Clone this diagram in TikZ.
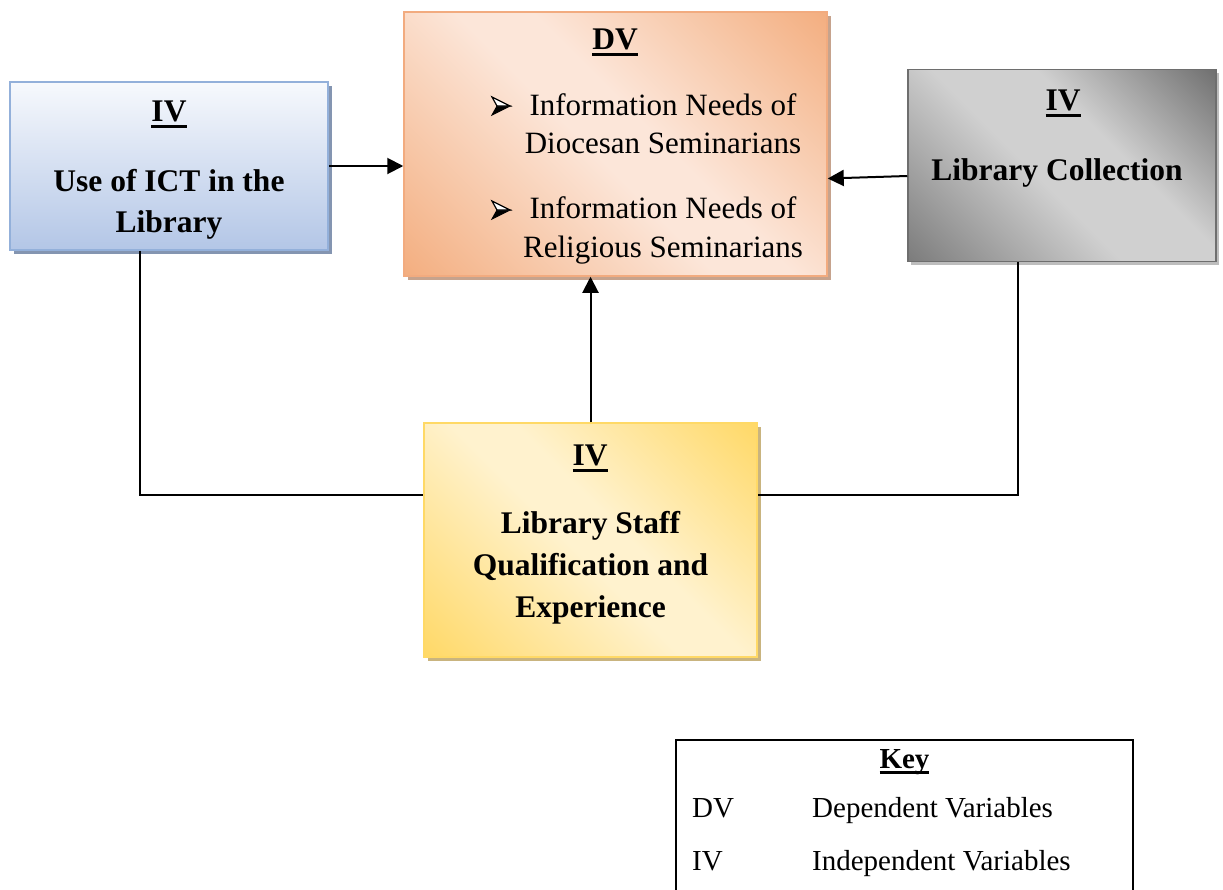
\documentclass[tikz,border=0pt]{standalone}
\usepackage{fontspec}
\setmainfont{Liberation Serif}
\usetikzlibrary{arrows.meta,shadows,calc}

% box palettes
\definecolor{blueTop}{HTML}{FBFCFE}
\definecolor{blueBot}{HTML}{AFC3E5}
\definecolor{blueLine}{HTML}{93B0DA}
\definecolor{blueShadow}{HTML}{8495B1}
\definecolor{orDark}{HTML}{F3AD7E}
\definecolor{orLight}{HTML}{FCE6D9}
\definecolor{orLine}{HTML}{F2AB7F}
\definecolor{orShadow}{HTML}{C6A38D}
\definecolor{grDark}{HTML}{666666}
\definecolor{grDarkB}{HTML}{7A7A7A}
\definecolor{grLight}{HTML}{D0D0D0}
\definecolor{grLine}{HTML}{6E6E6E}
\definecolor{grShadow}{HTML}{BDBDBD}
\definecolor{ylDark}{HTML}{FFD865}
\definecolor{ylLight}{HTML}{FFF2CE}
\definecolor{ylLine}{HTML}{FFD966}
\definecolor{ylShadow}{HTML}{C9B47F}

% gradients: vertical for the blue box, diagonal bands for the others
\pgfdeclareverticalshading{blueband}{100bp}{color(0bp)=(blueBot); color(22bp)=(blueBot); color(78bp)=(blueTop); color(100bp)=(blueTop)}
\pgfdeclareverticalshading{orangeband}{100bp}{color(0bp)=(orDark); color(14bp)=(orDark); color(47bp)=(orLight); color(55bp)=(orLight); color(86bp)=(orDark); color(100bp)=(orDark)}
\pgfdeclareverticalshading{grayband}{100bp}{color(0bp)=(grDarkB); color(14bp)=(grDarkB); color(45bp)=(grLight); color(60bp)=(grLight); color(88bp)=(grDark); color(100bp)=(grDark)}
\pgfdeclareverticalshading{yellowband}{100bp}{color(0bp)=(ylDark); color(14bp)=(ylDark); color(47bp)=(ylLight); color(55bp)=(ylLight); color(86bp)=(ylDark); color(100bp)=(ylDark)}

% underline with a heavier bar
\newcommand\heavyul[1]{\setbox0=\hbox{#1}\rlap{\rule[-0.22em]{\wd0}{0.1em}}\box0}

\tikzset{
  box/.style={rectangle, inner sep=0pt, line width=1.5pt, shade},
  ictbox/.style={box, draw=blueLine, shading=blueband,
    drop shadow={shadow xshift=4pt, shadow yshift=-4pt, fill=blueShadow, opacity=1},
    minimum width=318pt, minimum height=168pt},
  dvbox/.style={box, draw=orLine, shading=orangeband, shading angle=-45,
    drop shadow={shadow xshift=4pt, shadow yshift=-4pt, fill=orShadow, opacity=1},
    minimum width=423pt, minimum height=264pt},
  colbox/.style={box, draw=grLine, shading=grayband, shading angle=-45,
    drop shadow={shadow xshift=3pt, shadow yshift=-3pt, fill=grShadow, opacity=1},
    minimum width=308pt, minimum height=192pt},
  staffbox/.style={box, draw=ylLine, shading=yellowband, shading angle=-45,
    drop shadow={shadow xshift=4pt, shadow yshift=-4pt, fill=ylShadow, opacity=1},
    minimum width=333pt, minimum height=234pt},
  keybox/.style={rectangle, draw=black, line width=1.6pt, inner sep=0pt,
    minimum width=457pt, minimum height=155pt},
  boldtext/.style={font=\fontsize{31.5}{42}\selectfont\bfseries, inner sep=0pt, anchor=base},
  plaintext/.style={font=\fontsize{31}{42}\selectfont, inner sep=0pt, anchor=base},
  keytext/.style={font=\fontsize{29}{38}\selectfont, inner sep=0pt, anchor=base west},
  link/.style={line width=2pt, black},
  arrowlink/.style={link, -{Triangle[length=16pt, width=16pt]}},
  % three-dimensional arrowhead bullet: open upper half, solid lower half
  arrowbullet/.pic={
    \filldraw[black, line width=0.9pt, line join=miter] (9,0) -- (-9,9) -- (-4,0) -- cycle;
    \draw[black, line width=1.2pt, line join=miter, fill=white] (9,0) -- (-9,-9) -- (-4,0) -- cycle;
  },
}

\begin{document}
\begin{tikzpicture}[x=1pt, y=-1pt]
\useasboundingbox (0,0) rectangle (1223,889);

% boxes
\node[ictbox]   (ict)   at (169,166)   {};
\node[dvbox]    (dv)    at (615.5,144) {};
\node[colbox]   (coll)  at (1062,165.5) {};
\node[staffbox] (staff) at (590.5,540) {};

% ICT box text
\node[boldtext] (ictiv) at (169,121.5) {\heavyul{IV}};
\node[boldtext] (ict1)  at (169,191.5) {Use of ICT in the};
\node[boldtext] (ict2)  at (169,232.5) {Library};

% DV box text
\node[boldtext]  (dvdv) at (615,49)  {\heavyul{DV}};
\pic (b1) at (501,106) {arrowbullet};
\node[plaintext] (dv1)  at (663,115) {Information Needs of};
\node[plaintext] (dv2)  at (663,153) {Diocesan Seminarians};
\pic (b2) at (501,210) {arrowbullet};
\node[plaintext] (dv3)  at (663,218) {Information Needs of};
\node[plaintext] (dv4)  at (663,257) {Religious Seminarians};

% collection box text
\node[boldtext] (coliv) at (1063,110) {\heavyul{IV}};
\node[boldtext] (col1)  at (1057,180) {Library Collection};

% staff box text
\node[boldtext] (stiv) at (590,465) {\heavyul{IV}};
\node[boldtext] (st1)  at (590.5,533) {Library Staff};
\node[boldtext] (st2)  at (590.5,575) {Qualification and};
\node[boldtext] (st3)  at (590.5,617) {Experience};

% connectors
\draw[arrowlink] (ict.east) -- (dv.west |- ict.east);
\draw[arrowlink] ([yshift=-10.5pt]coll.west) -- ([yshift=-34.5pt]dv.east);
\draw[arrowlink] (staff.north) -- (staff.north |- dv.south);

\coordinate (lc) at (140,495);
\coordinate (rc) at (1018,495);
\draw[link] (lc |- ict.south) -- (lc) -- (lc -| staff.west);
\draw[link] (rc |- coll.south) -- (rc) -- (rc -| staff.east);

% key
\node[keybox] (key) at (904.5,817.5) {};
\node[boldtext, font=\fontsize{29}{38}\selectfont\bfseries] (keyt) at (904.5,768) {\heavyul{Key}};
\node[keytext] (kdv)  at (692,817) {DV};
\node[keytext] (kdvt) at (812,817) {Dependent Variables};
\node[keytext] (kiv)  at (692,870) {IV};
\node[keytext] (kivt) at (812,870) {Independent Variables};
\end{tikzpicture}
\end{document}
